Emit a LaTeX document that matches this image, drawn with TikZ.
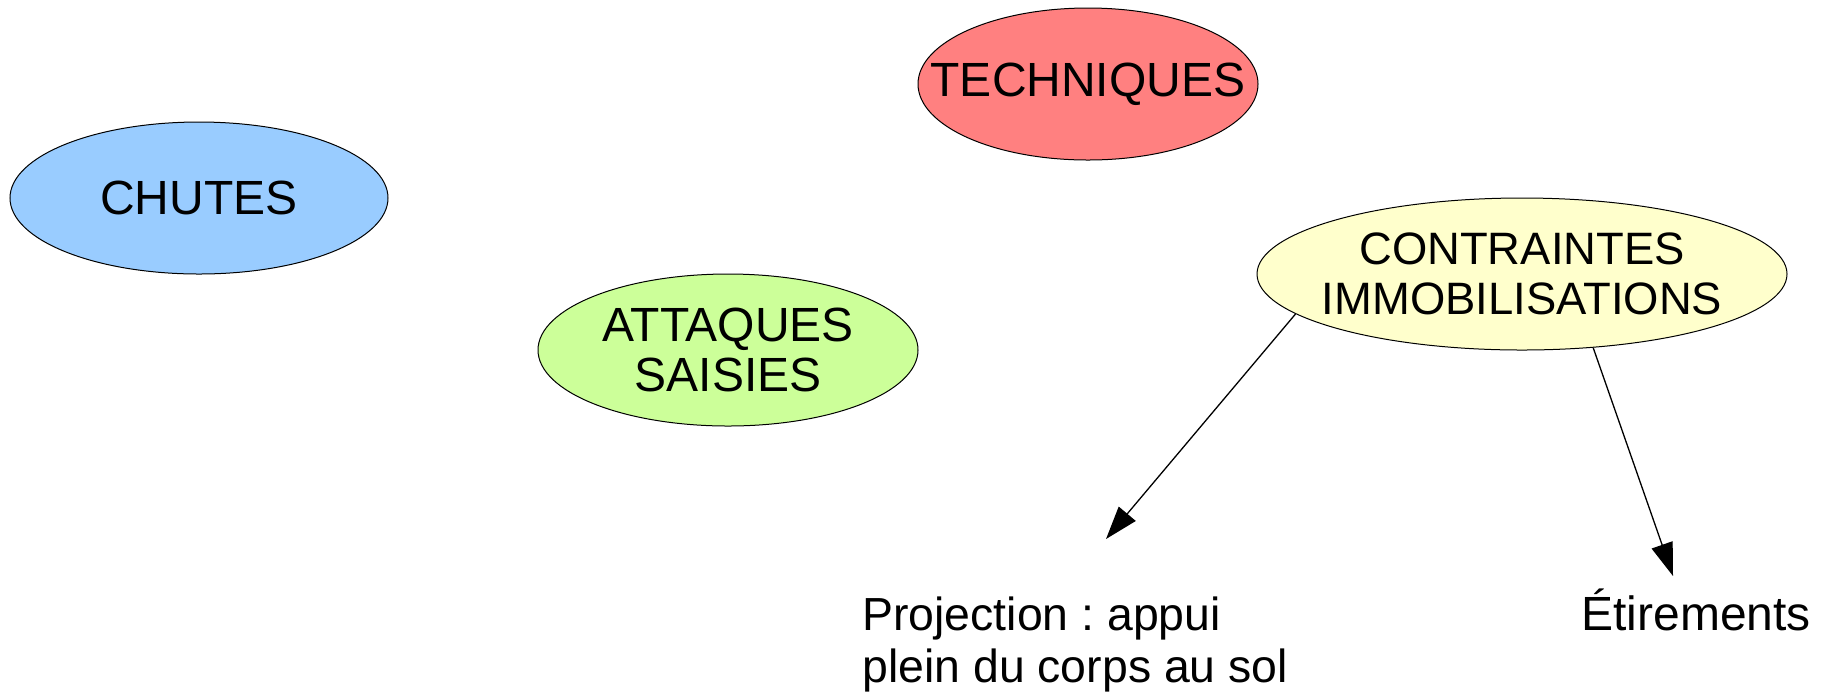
\documentclass[tikz,border=0pt]{standalone}
\usepackage{fontspec}
\setmainfont{Liberation Sans}
\frenchspacing
\usetikzlibrary{shapes.geometric, arrows.meta}
\definecolor{bleuChutes}{HTML}{99CCFF}
\definecolor{vertAttaques}{HTML}{CCFF99}
\definecolor{rougeTech}{HTML}{FF8080}
\definecolor{jauneContr}{HTML}{FFFFCC}
\tikzset{bulle/.style = {ellipse, draw, line width = 0.5pt,
    inner xsep = -30pt, inner ysep = 0pt,
    minimum height = 76pt, align = center,
    font = \fontsize{24pt}{25pt}\selectfont
    }
}
\tikzset{texte/.style = {inner sep = 0pt, align = left,
    font = \fontsize{23.2pt}{26pt}\selectfont
    }
}
\tikzset{fleche/.style = {line width = 0.65pt, -{Triangle[length = 16.5pt, width = 11pt]}}}

\begin{document}
\begin{tikzpicture}[x = 0.5pt, y = -0.5pt]

    \useasboundingbox (0,0) rectangle (1824,693);

    % les bulles
    \node (chutes) [bulle, fill = bleuChutes, minimum width = 189pt] at (199,198) {CHUTES};
    \node (tech) [bulle, fill = rougeTech, minimum width = 170pt] at (1088,84) {TECHNIQUES};
    \node (attq) [bulle, fill = vertAttaques, minimum width = 190pt] at (728,350) {ATTAQUES\\SAISIES};
    \node (contr) [bulle, fill = jauneContr, minimum width = 265pt,
        font = \fontsize{22.7pt}{25pt}\selectfont] at (1522,274) {CONTRAINTES\\IMMOBILISATIONS};

    % les textes
    \node (proj) [texte, anchor = north west] at (862,596) {Projection : appui\\plein du corps au sol};
    \node (etir) [texte, anchor = base west, font = \fontsize{24pt}{26pt}\selectfont] at (1581,630) {Étirements};

    \coordinate (projtip) at (1106,539);
    \coordinate (etirtip) at (1673,576);

    \draw [fleche] (contr.190) -- (projtip);
    \draw [fleche] (contr.314) -- (etirtip);

\end{tikzpicture}
\end{document}
